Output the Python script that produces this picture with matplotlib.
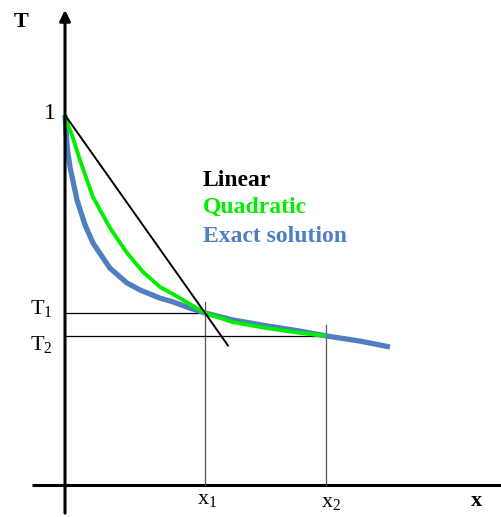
import numpy as np
import matplotlib
matplotlib.use('Agg')
from matplotlib import pyplot as plt

plt.rcParams['font.family'] = 'Liberation Serif'
plt.rcParams['mathtext.fontset'] = 'custom'
plt.rcParams['mathtext.rm'] = 'Liberation Serif'
plt.rcParams['mathtext.it'] = 'Liberation Serif'

# node positions and temperatures
x1, x2 = 1.0, 1.864
T1, T2 = 0.465, 0.403

# exact solution
x_exact = [0.0, 0.007, 0.018, 0.036, 0.086, 0.143, 0.2, 0.321, 0.443, 0.536,
           0.679, 0.771, 0.893, 1.0, 1.2, 1.443, 1.679, 1.864, 2.107, 2.321]
T_exact = [1.0, 0.959, 0.905, 0.859, 0.770, 0.703, 0.654, 0.586, 0.546, 0.527,
           0.505, 0.495, 0.478, 0.465, 0.446, 0.430, 0.416, 0.403, 0.389, 0.373]

# quadratic elements
x_quad = [0.0, 0.021, 0.05, 0.107, 0.2, 0.321, 0.443, 0.557, 0.679, 0.771, 0.893,
          1.0, 1.2, 1.443, 1.679, 1.864]
T_quad = [1.0, 0.973, 0.946, 0.878, 0.778, 0.695, 0.627, 0.576, 0.535, 0.516, 0.489,
          0.465, 0.440, 0.424, 0.411, 0.403]

# linear element (extended past x1)
x_lin = [0.0, x1, 1.164]
T_lin = [1.0, T1, 0.377]

BLUE = '#4f7fc0'
GREEN = '#00ee00'

fig = plt.figure(figsize=(5.02, 5.17), dpi=100)
ax = fig.add_axes([0, 0, 1, 1])
ax.set_xlim(-65 / 140, 437 / 140)
ax.set_ylim(-32 / 370, 485 / 370)
ax.axis('off')

# axes
ax.plot([-0.236, 3.2], [0, 0], color='black', lw=2.2, solid_capstyle='butt')
ax.annotate('', xy=(0, 1.284), xytext=(0, -0.076),
            arrowprops=dict(arrowstyle='-|>', lw=2.2, color='black',
                            mutation_scale=16, shrinkA=0, shrinkB=0))

# guide lines to the nodes
ax.plot([x1, x1], [0, 0.495], color='#555555', lw=0.9)
ax.plot([x2, x2], [0, 0.432], color='#555555', lw=0.9)
ax.plot([0, x1], [T1, T1], color='black', lw=0.9)
ax.plot([0, x2], [T2, T2], color='black', lw=0.9)

# curves
ax.plot(x_exact, T_exact, color=BLUE, lw=3.8, solid_capstyle='butt',
        solid_joinstyle='round')
ax.plot(x_quad, T_quad, color=GREEN, lw=2.8, solid_capstyle='butt',
        solid_joinstyle='round')
ax.plot(x_lin, T_lin, color='black', lw=1.4)

# labels
fs = 16
ax.text(-0.314, 1.251, 'T', fontsize=fs, fontweight='bold', ha='center', va='center')
ax.text(2.936, -0.043, 'x', fontsize=fs, fontweight='bold', ha='center', va='center')
ax.text(-0.064, 1.005, '1', fontsize=17, ha='right', va='center')
ax.text(-0.09, 0.476, r'$\mathrm{T}_1$', fontsize=fs, ha='right', va='center')
ax.text(-0.09, 0.381, r'$\mathrm{T}_2$', fontsize=fs, ha='right', va='center')
ax.text(1.014, -0.04, r'$\mathrm{x}_1$', fontsize=fs, ha='center', va='center')
ax.text(1.9, -0.048, r'$\mathrm{x}_2$', fontsize=fs, ha='center', va='center')

ax.text(0.986, 0.808, 'Linear', fontsize=17, fontweight='bold', color='black')
ax.text(0.986, 0.735, 'Quadratic', fontsize=17, fontweight='bold', color=GREEN)
ax.text(0.986, 0.657, 'Exact solution', fontsize=17, fontweight='bold', color=BLUE)

fig.savefig('out.png', dpi=100)
